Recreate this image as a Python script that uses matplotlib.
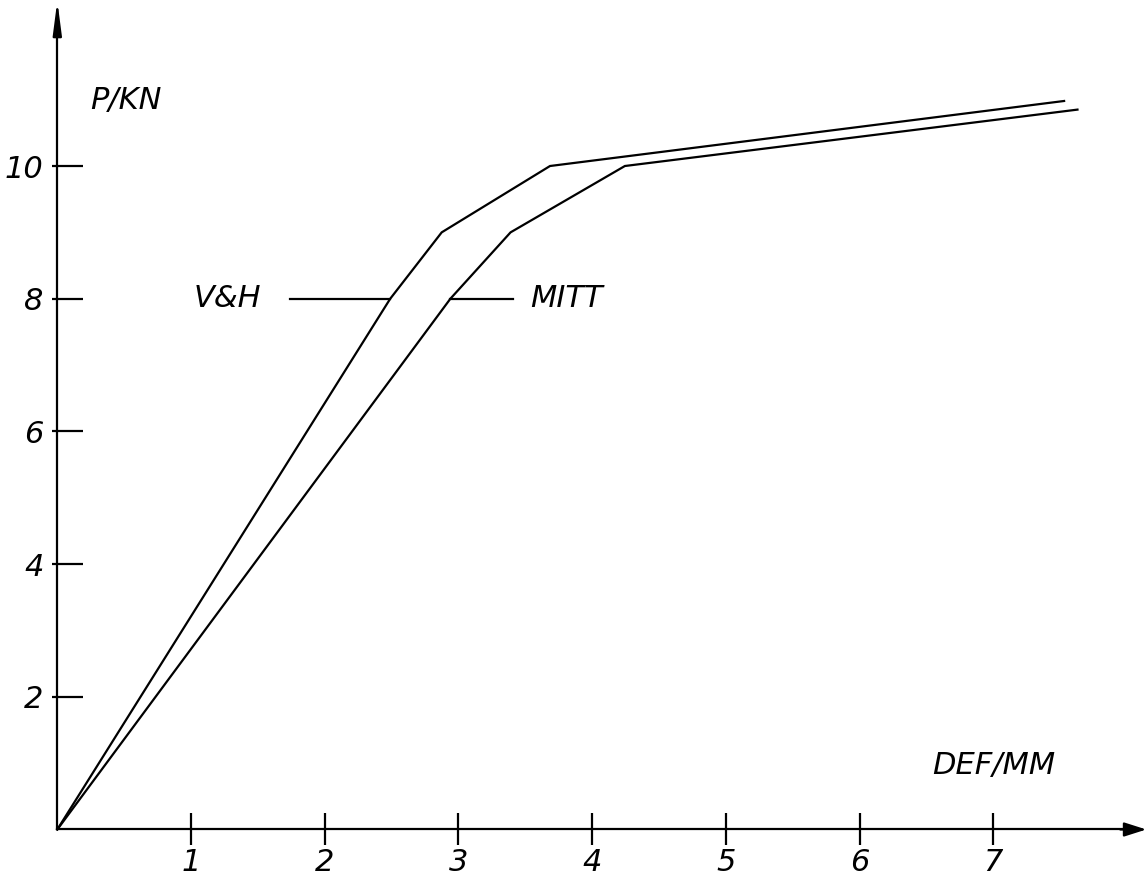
import matplotlib
matplotlib.use("Agg")
import matplotlib.pyplot as plt
from matplotlib.ticker import FixedLocator, FixedFormatter

# ---- data ----
x_ticks = [1, 2, 3, 4, 5, 6, 7]
x_tick_labels = ["1", "2", "3", "4", "5", "6", "7"]
y_ticks = [2, 4, 6, 8, 10]
y_tick_labels = ["2", "4", "6", "8", "10"]

vh_def = [0, 2.49, 2.875, 3.685, 7.53]
vh_load = [0, 8, 9, 10, 10.98]
mitt_def = [0, 2.94, 3.39, 4.245, 7.63]
mitt_load = [0, 8, 9, 10, 10.85]

series_names = ["V&H", "MITT"]
x_label = "DEF/MM"
y_label = "P/KN"

# ---- figure ----
fig = plt.figure(figsize=(11.47, 8.77), dpi=100)
ax = fig.add_axes([0, 0, 1, 1])
ax.set_xlim(-0.4286, 8.150)
ax.set_ylim(-0.716, 12.502)
ax.patch.set_visible(False)

lw = 1.6
font = dict(family="DejaVu Sans", style="italic", size=22, color="black")

# axes lines (spines at data zero)
for s in ["top", "right"]:
    ax.spines[s].set_visible(False)
ax.spines["left"].set_position(("data", 0))
ax.spines["bottom"].set_position(("data", 0))
ax.spines["left"].set_bounds(0, 12.1)
ax.spines["bottom"].set_bounds(0, 8.0)
ax.spines["left"].set_linewidth(lw)
ax.spines["bottom"].set_linewidth(lw)

# arrow heads
ax.annotate("", xy=(0, 12.49), xytext=(0, 12.0),
            arrowprops=dict(arrowstyle="-|>,head_length=20,head_width=2.6",
                            mutation_scale=1, lw=lw, color="black",
                            shrinkA=0, shrinkB=0))
ax.annotate("", xy=(8.145, 0), xytext=(7.95, 0),
            arrowprops=dict(arrowstyle="-|>,head_length=13.5,head_width=4.3",
                            mutation_scale=1, lw=lw, color="black",
                            shrinkA=0, shrinkB=0))

# ticks
ax.xaxis.set_major_locator(FixedLocator(x_ticks))
ax.xaxis.set_major_formatter(FixedFormatter(x_tick_labels))
ax.yaxis.set_major_locator(FixedLocator(y_ticks))
ax.yaxis.set_major_formatter(FixedFormatter(y_tick_labels))
ax.yaxis.set_minor_locator(FixedLocator(y_ticks))
ax.yaxis.remove_overlapping_locs = False
ax.tick_params(axis="x", which="major", direction="inout", length=22.5,
               width=lw, pad=2)
ax.tick_params(axis="y", which="major", direction="in", length=18.7,
               width=lw, pad=10)
ax.tick_params(axis="y", which="minor", direction="out", length=3.6,
               width=lw)
for lab in ax.get_xticklabels() + ax.get_yticklabels():
    lab.set_fontfamily("DejaVu Sans")
    lab.set_fontstyle("italic")
    lab.set_fontsize(22)

# curves
ax.plot(vh_def, vh_load, color="black", lw=lw, solid_joinstyle="miter")
ax.plot(mitt_def, mitt_load, color="black", lw=lw, solid_joinstyle="miter")

# leader lines and series labels at load level 8
ax.plot([1.74, vh_def[1]], [vh_load[1], vh_load[1]], color="black", lw=lw)
ax.plot([mitt_def[1], 3.41], [mitt_load[1], mitt_load[1]], color="black", lw=lw)
ax.text(1.27, 8.0, series_names[0], ha="center", va="center", **font)
ax.text(3.81, 8.0, series_names[1], ha="center", va="center", **font)

# axis labels
ax.text(0.514, 10.98, y_label, ha="center", va="center", **font)
ax.text(7.006, 0.97, x_label, ha="center", va="center", **font)

fig.savefig("out.png", dpi=100)
